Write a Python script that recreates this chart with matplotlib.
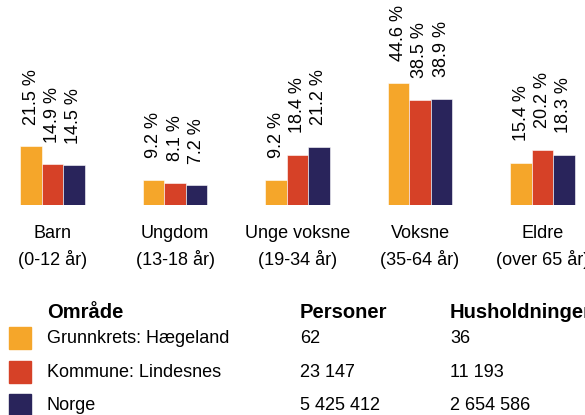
import matplotlib.pyplot as plt
import matplotlib.transforms as mtransforms
from matplotlib.patches import Rectangle
import numpy as np

plt.rcParams['font.family'] = ['Liberation Sans', 'DejaVu Sans']

# data
categories = ['Barn', 'Ungdom', 'Unge voksne', 'Voksne', 'Eldre']
subtitles = ['(0-12 år)', '(13-18 år)', '(19-34 år)', '(35-64 år)', '(over 65 år)']
grunnkrets = [21.5, 9.2, 9.2, 44.6, 15.4]
kommune = [14.9, 8.1, 18.4, 38.5, 20.2]
norge = [14.5, 7.2, 21.2, 38.9, 18.3]

areas = ['Grunnkrets: Hægeland', 'Kommune: Lindesnes', 'Norge']
personer = ['62', '23 147', '5 425 412']
husholdninger = ['36', '11 193', '2 654 586']
colors = ['#F5A62A', '#D64127', '#29245B']

W, H = 585, 415
fig = plt.figure(figsize=(W / 100, H / 100), dpi=100)
ax = fig.add_axes([0, 1 - 205 / H, 1, 205 / H])

ind = np.arange(len(categories))
width = 0.175
series = [grunnkrets, kommune, norge]
fs = 13

for j, (vals, c) in enumerate(zip(series, colors)):
    bars = ax.bar(ind + (j - 1) * width, vals, width, color=c,
                  edgecolor='#ffffff', linewidth=0.4)
    for rect, v in zip(bars, vals):
        ax.annotate('{:.1f} %'.format(v),
                    xy=(rect.get_x() + rect.get_width() / 2, v),
                    xytext=(0, 15.5), textcoords='offset points',
                    rotation=90, ha='center', va='bottom', fontsize=fs)

ax.set_xlim(-0.4286, 4.347)
ax.set_ylim(0, 74.95)
ax.axis('off')

trans = mtransforms.blended_transform_factory(ax.transData, fig.transFigure)
for i, (cat, sub) in enumerate(zip(categories, subtitles)):
    ax.text(i, 1 - 233 / H, cat, transform=trans, ha='center', va='center',
            fontsize=fs, clip_on=False)
    ax.text(i, 1 - 259 / H, sub, transform=trans, ha='center', va='center',
            fontsize=fs, clip_on=False)

# legend table
hfs = 14.5
fig.text(47 / W, 1 - 313 / H, 'Område', fontsize=hfs, fontweight='bold', va='center')
fig.text(300 / W, 1 - 313 / H, 'Personer', fontsize=hfs, fontweight='bold', va='center')
fig.text(450 / W, 1 - 313 / H, 'Husholdninger', fontsize=hfs, fontweight='bold', va='center')

rows_y = [338, 372, 405]
for y, name, p, h, c in zip(rows_y, areas, personer, husholdninger, colors):
    fig.add_artist(Rectangle((9 / W, 1 - (y + 11) / H), 22 / W, 22 / H,
                             transform=fig.transFigure, color=c))
    fig.text(47 / W, 1 - y / H, name, fontsize=fs, va='center')
    fig.text(300 / W, 1 - y / H, p, fontsize=fs, va='center')
    fig.text(450 / W, 1 - y / H, h, fontsize=fs, va='center')

plt.savefig('out.png', dpi=100)
